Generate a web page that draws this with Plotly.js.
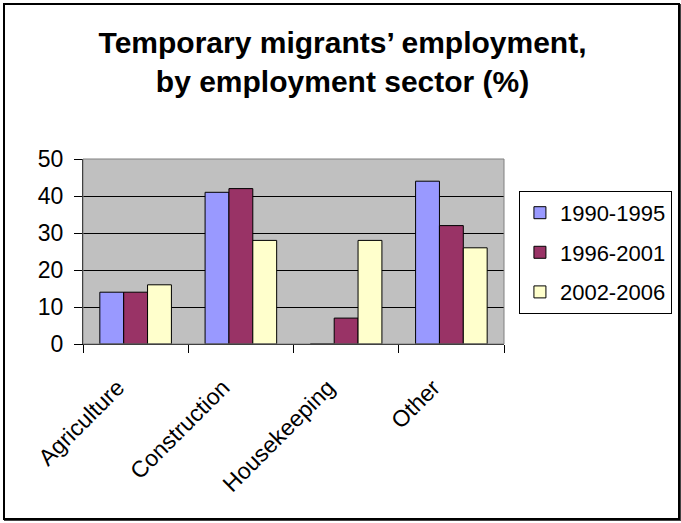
<!DOCTYPE html>
<html>
<head>
<meta charset="utf-8">
<script src="https://cdn.plot.ly/plotly-3.0.1.min.js"></script>
<style>
  html, body { margin: 0; padding: 0; background: #fff; }
  #wrap { position: relative; width: 681px; height: 523px; }
  #chart { position: absolute; left: 0; top: 0; width: 681px; height: 523px; }
  #frame { position: absolute; left: 3px; top: 3px; width: 673px; height: 513px;
           border: 2px solid #000; box-shadow: 1px 1px 0 #444; pointer-events: none; }
</style>
</head>
<body>
<div id="wrap">
  <div id="chart"></div>
  <div id="frame"></div>
</div>
<script>
const categories = ["Agriculture", "Construction", "Housekeeping", "Other"];
const seriesNames = ["1990-1995", "1996-2001", "2002-2006"];
const values1990 = [14, 41, 0, 44];
const values1996 = [14, 42, 7, 32];
const values2002 = [16, 28, 28, 26];
const seriesColors = ["#9999FF", "#993366", "#FFFFCC"];

const allValues = [values1990, values1996, values2002];
const FONT = "Liberation Sans, Arial, sans-serif";

const traces = allValues.map((vals, i) => ({
  type: "bar",
  name: seriesNames[i],
  x: categories,
  y: vals,
  legendgroup: "g" + i,
  marker: { color: seriesColors[i], line: { color: "#000", width: 1 } },
  hoverinfo: "x+y+name"
}));

const layout = {
  width: 681,
  height: 523,
  margin: { l: 83, r: 177, t: 159, b: 179, pad: 0, autoexpand: false },
  paper_bgcolor: "rgba(0,0,0,0)",
  plot_bgcolor: "#C0C0C0",
  font: { family: FONT, color: "#000", size: 23 },
  title: {
    text: "Temporary migrants’ employment,<br>by employment sector (%)",
    font: { family: FONT, size: 30, color: "#000", weight: "bold" },
    xref: "container", yref: "container",
    x: 0.503, xanchor: "center",
    y: 0.898, yanchor: "middle"
  },
  barmode: "group",
  bargap: 0.32,
  bargroupgap: 0,
  xaxis: {
    type: "category",
    tickson: "boundaries",
    ticks: "outside",
    ticklen: 8,
    tickcolor: "#000",
    tickwidth: 1,
    tickangle: -45,
    ticklabelstandoff: 20,
    ticklabelshift: -18,
    showline: true,
    linecolor: "#000",
    linewidth: 1,
    showgrid: false,
    automargin: false,
    tickfont: { family: FONT, size: 23, color: "#000" },
    fixedrange: true
  },
  yaxis: {
    range: [0, 50],
    dtick: 10,
    tick0: 0,
    ticks: "outside",
    ticklen: 8,
    tickcolor: "#000",
    tickwidth: 1,
    ticklabelstandoff: 6,
    showline: true,
    linecolor: "#000",
    linewidth: 1,
    showgrid: true,
    gridcolor: "#000",
    gridwidth: 1,
    zeroline: false,
    automargin: false,
    tickfont: { family: FONT, size: 23, color: "#000" },
    fixedrange: true
  },
  legend: {
    xref: "container", yref: "container",
    x: 0.762, xanchor: "left",
    y: 0.635, yanchor: "top",
    bgcolor: "#fff",
    bordercolor: "#000",
    borderwidth: 1,
    traceorder: "grouped",
    tracegroupgap: 8,
    font: { family: FONT, size: 22, color: "#000" }
  },
  shapes: [{
    type: "rect", xref: "paper", yref: "paper",
    x0: 0, x1: 1, y0: 0, y1: 1,
    line: { color: "#808080", width: 1 },
    fillcolor: "rgba(0,0,0,0)",
    layer: "above"
  }],
  showlegend: true
};

Plotly.newPlot("chart", traces, layout, { displayModeBar: false, staticPlot: true });
</script>
</body>
</html>
